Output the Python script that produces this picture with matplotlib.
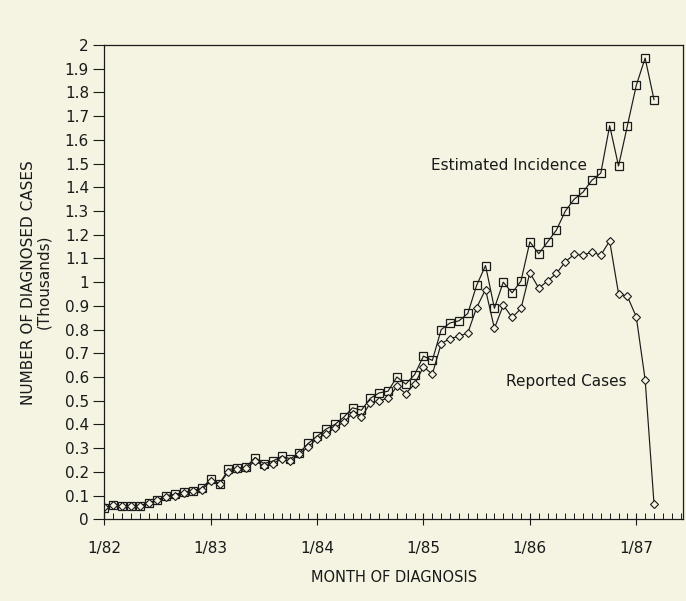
import numpy as np
import matplotlib.pyplot as plt

# meses desde 1/82 (0 = enero 1982)
months = np.arange(63)

estimated = [0.046, 0.06, 0.055, 0.055, 0.055, 0.07, 0.08, 0.10, 0.105, 0.115,
             0.12, 0.13, 0.17, 0.15, 0.21, 0.215, 0.22, 0.26, 0.235, 0.245,
             0.265, 0.255, 0.28, 0.32, 0.35, 0.38, 0.40, 0.43, 0.47, 0.46,
             0.51, 0.533, 0.54, 0.60, 0.57, 0.61, 0.688, 0.67, 0.80, 0.828,
             0.837, 0.868, 0.987, 1.07, 0.89, 1.00, 0.955, 1.005, 1.17, 1.12,
             1.17, 1.22, 1.30, 1.35, 1.38, 1.43, 1.46, 1.66, 1.49, 1.66,
             1.83, 1.945, 1.77]

reported = [0.05, 0.06, 0.055, 0.055, 0.055, 0.07, 0.08, 0.095, 0.10, 0.11,
            0.12, 0.125, 0.16, 0.15, 0.20, 0.21, 0.215, 0.245, 0.225, 0.235,
            0.255, 0.245, 0.275, 0.305, 0.34, 0.36, 0.385, 0.41, 0.445, 0.43,
            0.49, 0.50, 0.51, 0.56, 0.53, 0.57, 0.643, 0.612, 0.741, 0.762,
            0.772, 0.786, 0.893, 0.969, 0.805, 0.903, 0.851, 0.889, 1.04, 0.975,
            1.005, 1.037, 1.086, 1.117, 1.114, 1.127, 1.114, 1.174, 0.952, 0.94,
            0.854, 0.589, 0.066]

year_ticks = [0, 12, 24, 36, 48, 60]
year_labels = ['1/82', '1/83', '1/84', '1/85', '1/86', '1/87']
y_ticks = np.round(np.arange(0, 2.01, 0.1), 1)
y_labels = [f'{v:g}' for v in y_ticks]

bg = '#f5f3e1'
ink = '#1a1a1a'
fig = plt.figure(figsize=(6.86, 6.01), dpi=100, facecolor=bg)
ax = fig.add_axes([0.152, 0.136, 0.844, 0.789], facecolor=bg)

ax.plot(months, estimated, color=ink, lw=0.85, marker='s', ms=6,
        mfc='none', mec=ink, mew=0.9)
ax.plot(months, reported, color=ink, lw=0.85, marker='D', ms=4.2,
        mfc=bg, mec=ink, mew=0.8)

ax.set_xlim(0, 65.3)
ax.set_ylim(0, 2)
ax.set_xticks(year_ticks)
ax.set_xticklabels(year_labels)
ax.set_xticks(np.arange(0, 66), minor=True)
ax.set_yticks(y_ticks)
ax.set_yticklabels(y_labels)

ax.tick_params(axis='x', which='major', direction='inout', length=9, width=0.8,
               labelsize=11, pad=11, colors=ink)
ax.tick_params(axis='x', which='minor', direction='in', length=4, width=0.7, colors=ink)
ax.tick_params(axis='y', which='major', direction='out', length=8, width=0.8,
               labelsize=11, pad=3, colors=ink)
for s in ax.spines.values():
    s.set_linewidth(0.9)
    s.set_color(ink)

# etiquetas de las series
ax.text(54.4, 1.49, 'Estimated Incidence', fontsize=11, ha='right', va='center', color=ink)
ax.text(45.3, 0.58, 'Reported Cases', fontsize=11, va='center', color=ink)

ax.set_xlabel('MONTH OF DIAGNOSIS', fontsize=10.5, labelpad=10, color=ink)
ax.set_ylabel('NUMBER OF DIAGNOSED CASES\n(Thousands)', fontsize=11,
              labelpad=10, linespacing=0.95, color=ink)

fig.savefig('out.png', dpi=100, facecolor=bg)
